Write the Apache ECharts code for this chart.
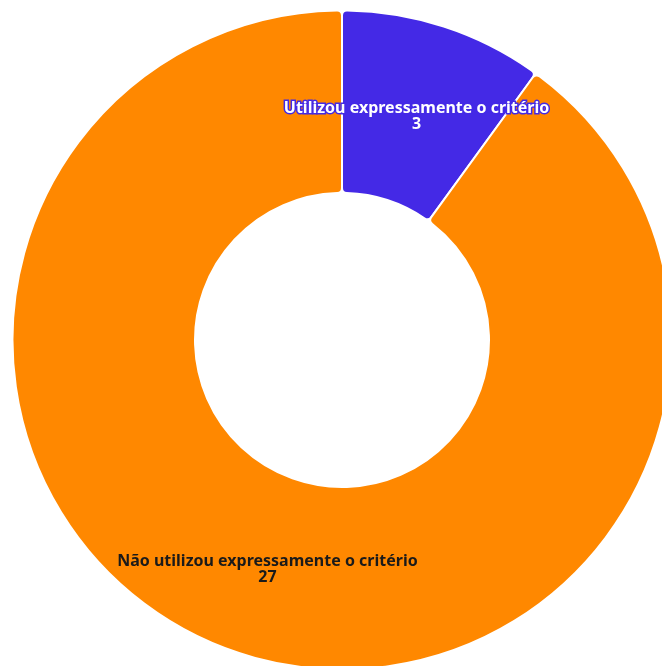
<!DOCTYPE html>
<html><head><meta charset="utf-8">
<script src="https://cdn.jsdelivr.net/npm/echarts@6/dist/echarts.min.js"></script>
<style>html,body{margin:0;padding:0;background:#fff}#c{width:662px;height:666px}</style>
</head><body><div id="c"></div>
<script>
const categories = ["Utilizou expressamente o critério", "Não utilizou expressamente o critério"];
const values = [3, 27];
const colors = ["#4429E6", "#FF8800"];
const chart = echarts.init(document.getElementById('c'), null, {renderer: 'canvas'});
chart.setOption({
  animation: false,
  series: [{
    type: 'pie',
    center: [342, 340],
    radius: [147, 329.5],
    startAngle: 90,
    clockwise: true,
    itemStyle: {borderColor: '#fff', borderWidth: 2, borderRadius: 5},
    label: {
      show: true, position: 'inside',
      formatter: '{b}\n{c}',
      fontFamily: 'Noto Sans', fontWeight: 'bold', fontSize: 16, lineHeight: 16,
      padding: [4, 0, 0, 0]
    },
    labelLine: {show: false},
    data: categories.map((n, i) => ({
      name: n, value: values[i],
      itemStyle: {color: colors[i]},
      label: i === 0 ? {color: '#fff', textBorderColor: '#4429E6', textBorderWidth: 3, offset: [0, 6]}
                     : {color: '#1a1a1a', textBorderWidth: 0}
    }))
  }]
});
</script></body></html>
